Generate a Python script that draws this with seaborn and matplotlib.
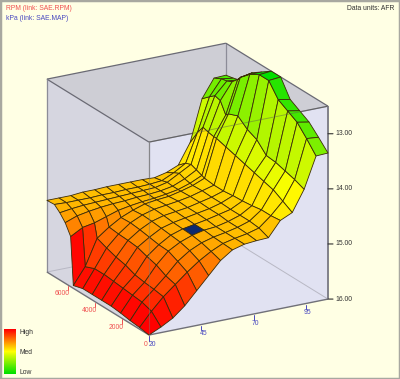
"""AFR table surface, drawn in an orthographic cube view."""

import numpy as np
import matplotlib
matplotlib.use("Agg")
import matplotlib.pyplot as plt
from matplotlib.colors import Normalize
from matplotlib.patches import Rectangle
from mpl_toolkits.mplot3d import proj3d
from mpl_toolkits.mplot3d.art3d import Poly3DCollection
import seaborn as sns

#  Data
rpm_vals = [0, 700, 1400, 2100, 2800, 3500, 4200, 4900, 5600, 5800, 6200, 6600, 7000, 7555]
kpa_vals = [20, 25.7, 31.4, 37.1, 42.8, 48.5, 54.2, 59.9, 65.6, 71.4, 77.1, 82.8, 88.5, 94.2, 99.9, 105.6]
afr_table = [
    [16.0, 15.9, 15.78, 15.6, 15.37, 15.14, 14.91, 14.76, 14.7, 14.68, 14.67, 14.4, 14.3, 13.92, 13.36, 13.35],
    [15.97, 15.72, 15.5, 15.32, 15.14, 14.98, 14.85, 14.75, 14.7, 14.66, 14.6, 14.42, 14.2, 13.85, 13.15, 13.17],
    [15.95, 15.66, 15.47, 15.27, 15.05, 14.9, 14.8, 14.74, 14.7, 14.65, 14.58, 14.42, 14.1, 13.8, 12.96, 13.0],
    [15.92, 15.64, 15.45, 15.18, 14.97, 14.85, 14.77, 14.72, 14.7, 14.65, 14.58, 14.45, 14.05, 13.75, 12.86, 12.9],
    [15.9, 15.62, 15.42, 15.13, 14.96, 14.83, 14.76, 14.72, 14.68, 14.63, 14.58, 14.47, 14.0, 13.73, 12.76, 12.8],
    [15.9, 15.6, 15.35, 15.07, 14.93, 14.81, 14.75, 14.71, 14.67, 14.63, 14.57, 14.48, 13.95, 13.55, 12.52, 12.5],
    [15.9, 15.58, 15.31, 15.05, 14.9, 14.79, 14.73, 14.7, 14.67, 14.62, 14.57, 14.5, 13.9, 13.47, 12.52, 12.5],
    [15.9, 15.58, 15.25, 15.04, 14.88, 14.78, 14.72, 14.69, 14.66, 14.62, 14.56, 14.5, 13.85, 13.33, 12.62, 12.62],
    [15.95, 15.65, 15.18, 15.02, 14.89, 14.8, 14.73, 14.7, 14.68, 14.63, 14.57, 14.48, 13.8, 13.4, 12.78, 12.74],
    [15.09, 14.97, 14.93, 14.86, 14.79, 14.75, 14.72, 14.7, 14.67, 14.63, 14.56, 14.46, 13.8, 13.45, 12.85, 12.79],
    [14.9, 14.82, 14.78, 14.75, 14.73, 14.72, 14.7, 14.69, 14.67, 14.63, 14.54, 14.42, 13.78, 13.25, 12.95, 12.96],
    [14.78, 14.75, 14.73, 14.72, 14.71, 14.7, 14.69, 14.68, 14.67, 14.62, 14.5, 14.38, 13.75, 13.22, 13.0, 13.02],
    [14.69, 14.7, 14.7, 14.7, 14.69, 14.69, 14.68, 14.68, 14.67, 14.65, 14.55, 14.42, 13.9, 13.3, 13.02, 13.05],
    [14.7, 14.7, 14.7, 14.68, 14.68, 14.67, 14.67, 14.67, 14.67, 14.68, 14.63, 14.54, 14.17, 13.42, 13.09, 13.08],
]
rpm_ticks = [0, 2000, 4000, 6000]
kpa_ticks = [20, 45, 70, 95]
afr_ticks = [13.0, 14.0, 15.0, 16.0]
legend_labels = ["High", "Med", "Low"]
marked_cell = (3, 6)  # rpm row, kpa column of the blue cursor cell

#  Style
W, H = 400, 379
BG = "#FFFFE4"
FONT = "Liberation Sans"
RED_TXT = "#F05050"
BLUE_TXT = "#4848C0"
TXT_SIZE = 4.9
sns.set_theme(style="white")
plt.rcParams["font.family"] = [FONT, "DejaVu Sans"]
cmap = sns.blend_palette(["#00E000", "#FFFF00", "#FF0000"], as_cmap=True)
norm = Normalize(vmin=12.5, vmax=16)

fig = plt.figure(figsize=(W / 100, H / 100), dpi=100, facecolor=BG)
fig.add_artist(Rectangle((0, 0), 1, 1, transform=fig.transFigure, fill=False,
                         edgecolor="#A8A8A0", linewidth=2.5))

#  Axes: fit the cube to the wanted pixel corners
ax = fig.add_axes([0, 0, H / W, 1], projection="3d", computed_zorder=False)
ax.set_proj_type("ortho")
ax.view_init(elev=20.6, azim=-119.7)
ax.set_box_aspect((1, 1, 1))
x0, x1 = kpa_vals[0], kpa_vals[-1]
y0, y1 = rpm_vals[0], rpm_vals[-1]
z_top, z_bot = 12.5, 16.0
ax.set_xlim(x0, x1)
ax.set_ylim(y0, y1)
ax.set_zlim(z_bot, z_top)
ax.set_axis_off()
ax.patch.set_alpha(0)


def to_px(x, y, z):
    tx, ty, _ = proj3d.proj_transform(x, y, z, ax.get_proj())
    return ax.transData.transform((tx, ty))


ax.apply_aspect()
front = to_px(x0, y0, z_bot)
right = to_px(x1, y0, z_bot)
k = (328 - 149) / (right[0] - front[0])
side = H * k
left_px = 149 - (front[0]) * k
bot_px = (H - 335) - (front[1]) * k
ax.set_position([left_px / W, bot_px / H, side / W, side / H])
ax.apply_aspect()

#  Cube faces
def corner(a, b, c):
    return ([x0, x1][a], [y0, y1][b], [z_bot, z_top][c])


faces = [
    ([(0, 0, 1), (1, 0, 1), (1, 1, 1), (0, 1, 1)], "#CECED5"),
    ([(0, 0, 0), (0, 1, 0), (0, 1, 1), (0, 0, 1)], "#D6D6E0"),
    ([(0, 0, 0), (1, 0, 0), (1, 0, 1), (0, 0, 1)], "#E1E2F2"),
]
for verts, col in faces:
    ax.add_collection3d(Poly3DCollection([[corner(*v) for v in verts]], facecolors=col,
                                         edgecolors="none", zorder=1))


def edge(a, b, color, lw=0.9, alpha=1.0, zorder=2):
    pa, pb = corner(*a), corner(*b)
    ax.plot([pa[0], pb[0]], [pa[1], pb[1]], [pa[2], pb[2]], color=color, lw=lw,
            alpha=alpha, zorder=zorder, solid_capstyle="butt")


# lines behind the surface
edge((0, 1, 0), (1, 1, 0), "#B8B8C4", lw=0.7)
edge((1, 0, 0), (1, 1, 0), "#B8B8C4", lw=0.7)
edge((1, 1, 0), (1, 1, 1), "#8C8C98")
edge((0, 1, 1), (1, 1, 1), "#6A6A74")
edge((1, 0, 1), (1, 1, 1), "#6A6A74")
edge((0, 0, 1), (0, 1, 1), "#6A6A74")
edge((0, 1, 0), (0, 1, 1), "#8C8C98")
edge((0, 0, 1), (1, 0, 1), "#6A6A74")
edge((0, 0, 0), (0, 1, 0), "#707078", lw=1.0)
edge((0, 0, 0), (1, 0, 0), "#707078", lw=1.0)
edge((1, 0, 0), (1, 0, 1), "#80808A", lw=1.4)
edge((0, 0, 0), (0, 0, 1), "#9090A0")

#  Surface: each cell takes the colour of its lowest rpm / kpa corner
X, Y = np.meshgrid(kpa_vals, rpm_vals)
Z = np.array(afr_table)
cell_colors = cmap(norm(Z[:-1, :-1]))
cell_colors[marked_cell] = matplotlib.colors.to_rgba("#0C2A70")
ax.plot_surface(X, Y, Z, facecolors=cell_colors, rstride=1, cstride=1, shade=False,
                edgecolor="#3C2C08", linewidth=0.6, antialiased=True, zorder=3)

# front edges show faintly through the surface
edge((0, 0, 0), (0, 0, 1), "#7A7A70", lw=0.8, alpha=0.45, zorder=4)
edge((0, 0, 1), (1, 0, 1), "#5A5A50", lw=0.7, alpha=0.45, zorder=4)


#  Ticks and labels
def tick_label(x, y, z, text, dx, dy, color, ha="center"):
    tx, ty, _ = proj3d.proj_transform(x, y, z, ax.get_proj())
    ax.annotate(text, (tx, ty), xytext=(dx, dy), textcoords="offset pixels", color=color,
                fontsize=TXT_SIZE, ha=ha, va="center", annotation_clip=False, zorder=6)


for rpm in rpm_ticks:
    ax.plot([x0, x0], [rpm, rpm], [z_bot + 0.02, z_bot + 0.1], color=RED_TXT, lw=0.7, zorder=5)
    # the 0 and 20 sit side by side at the shared corner
    tick_label(x0, rpm, z_bot, str(rpm), -1.5 if rpm == 0 else 1.5, -9, RED_TXT, ha="right")
for kpa in kpa_ticks:
    ax.plot([kpa, kpa], [y0, y0], [z_bot + 0.02, z_bot + 0.1], color=BLUE_TXT, lw=0.7, zorder=5)
    tick_label(kpa, y0, z_bot, str(kpa), 3 if kpa == 20 else 2, -9, BLUE_TXT)
for afr in afr_ticks:
    ax.plot([x1, x1 + 1.8], [y0, y0 - 91], [afr, afr], color="#303030", lw=0.8, zorder=5)
    tick_label(x1, y0, afr, f"{afr:.2f}", 7, 0, "#303030", ha="left")

#  Header text
fig.text(6 / W, 1 - 8 / H, "RPM (link: SAE.RPM)", color=RED_TXT, fontsize=TXT_SIZE, va="center")
fig.text(6 / W, 1 - 18 / H, "kPa (link: SAE.MAP)", color=BLUE_TXT, fontsize=TXT_SIZE, va="center")
fig.text(394 / W, 1 - 8 / H, "Data units: AFR", color="#303030", fontsize=TXT_SIZE, va="center", ha="right")

#  Colour legend
lax = fig.add_axes([4 / W, 1 - 374 / H, 12 / W, 45 / H])
levels = np.linspace(16, 12.5, 45).reshape(-1, 1)
sns.heatmap(levels, cmap=cmap, norm=norm, cbar=False, xticklabels=False, yticklabels=False, ax=lax)
for text, y_px in zip(legend_labels, [333, 352, 372]):
    fig.text(20 / W, 1 - y_px / H, text, color="#303030", fontsize=TXT_SIZE, va="center")

fig.savefig("out.png", dpi=100, facecolor=BG)
